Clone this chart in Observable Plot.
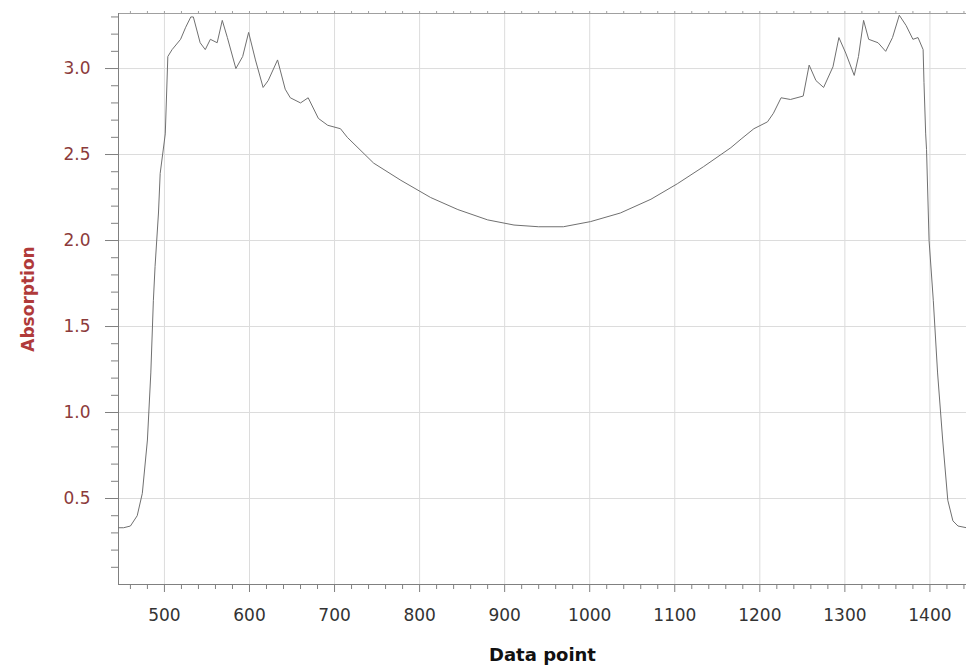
<!DOCTYPE html>
<html>
<head>
<meta charset="utf-8">
<script src="https://cdn.jsdelivr.net/npm/d3@7"></script>
<script src="https://cdn.jsdelivr.net/npm/@observablehq/plot@0.6"></script>
<style>
  html, body { margin: 0; padding: 0; background: #fff; }
  #chart { width: 966px; height: 670px; }
</style>
</head>
<body>
<div id="chart"></div>
<script>
// Data point index (x) and absorption (y)
const dataPoint = [
  446, 452, 460, 468, 474, 480, 484, 487, 489, 493, 495, 501, 504, 509, 519, 525, 531, 534,
  542, 548, 554, 562, 568, 574, 584, 592, 599, 607, 616, 622, 633, 642, 648, 660, 669, 681,
  692, 707, 715, 746, 778, 813, 845, 880, 911, 940, 969, 1001, 1036, 1072, 1103, 1134, 1166,
  1178, 1193, 1209, 1216, 1225, 1236, 1251, 1258, 1266, 1275, 1286, 1293, 1301, 1311, 1316,
  1322, 1328, 1339, 1348, 1356, 1364, 1372, 1380, 1386, 1392, 1393, 1395, 1396, 1399, 1404,
  1409, 1415, 1421, 1427, 1433, 1443
];
const absorption = [
  0.33, 0.33, 0.34, 0.40, 0.53, 0.84, 1.23, 1.65, 1.85, 2.16, 2.39, 2.62, 3.07, 3.11, 3.17, 3.24, 3.30, 3.30,
  3.15, 3.11, 3.17, 3.15, 3.28, 3.18, 3.00, 3.07, 3.21, 3.05, 2.89, 2.93, 3.05, 2.88, 2.83, 2.80, 2.83, 2.71,
  2.67, 2.65, 2.60, 2.45, 2.35, 2.25, 2.18, 2.12, 2.09, 2.08, 2.08, 2.11, 2.16, 2.24, 2.33, 2.43, 2.54,
  2.59, 2.65, 2.69, 2.74, 2.83, 2.82, 2.84, 3.02, 2.93, 2.89, 3.01, 3.18, 3.09, 2.96, 3.07,
  3.28, 3.17, 3.15, 3.10, 3.18, 3.31, 3.25, 3.17, 3.18, 3.11, 2.92, 2.62, 2.53, 2.00, 1.65,
  1.23, 0.84, 0.49, 0.37, 0.34, 0.33
];

// Tick labels
const xTicks = [500, 600, 700, 800, 900, 1000, 1100, 1200, 1300, 1400];
const yTicks = [0.5, 1.0, 1.5, 2.0, 2.5, 3.0];
const xMinor = d3.range(460, 1441, 20).filter(v => v % 100 !== 0);
const yMinor = d3.range(1, 34).map(v => v / 10).filter(v => Math.round(v * 10) % 5 !== 0);

const xLabel = "Data point";
const yLabel = "Absorption";

const rows = dataPoint.map((x, i) => ({x, y: absorption[i]}));

const axisGray = "#808080";
const blank = () => "";

const chart = Plot.plot({
  width: 966,
  height: 670,
  marginLeft: 118,
  marginRight: 0,
  marginTop: 13,
  marginBottom: 86,
  x: {domain: [446, 1443]},
  y: {domain: [0, 3.32]},
  style: {fontFamily: "'DejaVu Sans', sans-serif", background: "#fff"},
  marks: [
    Plot.gridX(xTicks, {stroke: "#dcdcdc", strokeOpacity: 1}),
    Plot.gridY(yTicks, {stroke: "#dcdcdc", strokeOpacity: 1}),
    Plot.frame({anchor: "top", stroke: "#a0a0a0"}),
    Plot.frame({anchor: "left", stroke: axisGray}),
    Plot.frame({anchor: "bottom", stroke: axisGray}),
    Plot.axisY(yMinor, {tickSize: 7, tickFormat: blank, label: null, stroke: axisGray}),
    Plot.axisY(yTicks, {
      tickSize: 13, tickPadding: 15, tickFormat: d3.format(".1f"), label: null,
      stroke: axisGray, fill: "#8c3b3b", fontSize: 17
    }),
    Plot.axisX(xMinor, {tickSize: 5, tickFormat: blank, label: null, stroke: axisGray}),
    Plot.axisX(xTicks, {
      tickSize: 8, tickPadding: 16, tickFormat: d => String(d), label: null,
      stroke: axisGray, fill: "#333", fontSize: 17
    }),
    Plot.axisX(xMinor.concat(xTicks), {anchor: "top", tickSize: 3, tickFormat: blank, label: null, stroke: "#a0a0a0"}),
    Plot.line(rows, {x: "x", y: "y", stroke: "#707070", strokeWidth: 1}),
    Plot.text([xLabel], {
      frameAnchor: "bottom", dy: 71, lineAnchor: "middle", textAnchor: "middle",
      fontWeight: "bold", fontSize: 18, fill: "#111"
    }),
    Plot.text([yLabel], {
      frameAnchor: "left", dx: -90, rotate: -90, textAnchor: "middle", lineAnchor: "middle",
      fontWeight: "bold", fontSize: 17, fill: "#b03a3a"
    })
  ]
});

document.getElementById("chart").append(chart);
</script>
</body>
</html>
